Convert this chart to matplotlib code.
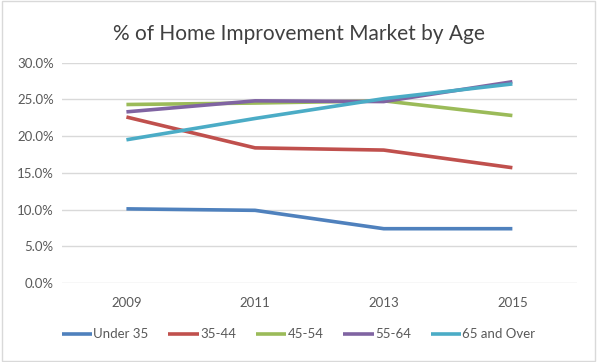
import matplotlib.pyplot as plt
from matplotlib.ticker import PercentFormatter
from matplotlib.patches import Rectangle

years = ['2009', '2011', '2013', '2015']
under_35 = [10.1, 9.9, 7.4, 7.4]
age_35_44 = [22.6, 18.4, 18.1, 15.7]
age_45_54 = [24.3, 24.5, 24.8, 22.8]
age_55_64 = [23.3, 24.8, 24.7, 27.4]
over_65 = [19.5, 22.4, 25.1, 27.1]

labels = ['Under 35', '35-44', '45-54', '55-64', '65 and Over']
colors = ['#4F81BD', '#C0504D', '#9BBB59', '#8064A2', '#4BACC6']
series = [under_35, age_35_44, age_45_54, age_55_64, over_65]

plt.rcParams['font.family'] = ['Lato', 'DejaVu Sans']

fig = plt.figure(figsize=(5.97, 3.62), dpi=100)
ax = fig.add_axes([0.104, 0.218, 0.862, 0.609])

x = list(range(len(years)))
for vals, lab, col in zip(series, labels, colors):
    ax.plot(x, vals, color=col, linewidth=2.6, label=lab, solid_capstyle='butt')

ax.set_xlim(-0.5, len(years) - 0.5)
ax.set_ylim(0, 30)
ax.set_yticks(range(0, 31, 5))
ax.yaxis.set_major_formatter(PercentFormatter(decimals=1))
ax.set_xticks(x)
ax.set_xticklabels(years)
ax.grid(axis='y', color='#d9d9d9', linewidth=1)
ax.set_axisbelow(True)
for s in ax.spines.values():
    s.set_visible(False)
ax.tick_params(length=0, labelsize=9.5, colors='#595959')
ax.tick_params(axis='x', pad=10)
ax.tick_params(axis='y', pad=6)

fig.suptitle('% of Home Improvement Market by Age', y=0.935, fontsize=15, color='#404040')

leg = fig.legend(loc='center', bbox_to_anchor=(0.5, 0.077), ncol=5, frameon=False,
                 fontsize=9.5, handlelength=2.3, handletextpad=0.1, columnspacing=1.5)
for t in leg.get_texts():
    t.set_color('#595959')

fig.patches.append(Rectangle((0.003, 0.004), 0.994, 0.992, transform=fig.transFigure,
                             fill=False, edgecolor='#d9d9d9', linewidth=1))

plt.savefig('out.png', dpi=100)
